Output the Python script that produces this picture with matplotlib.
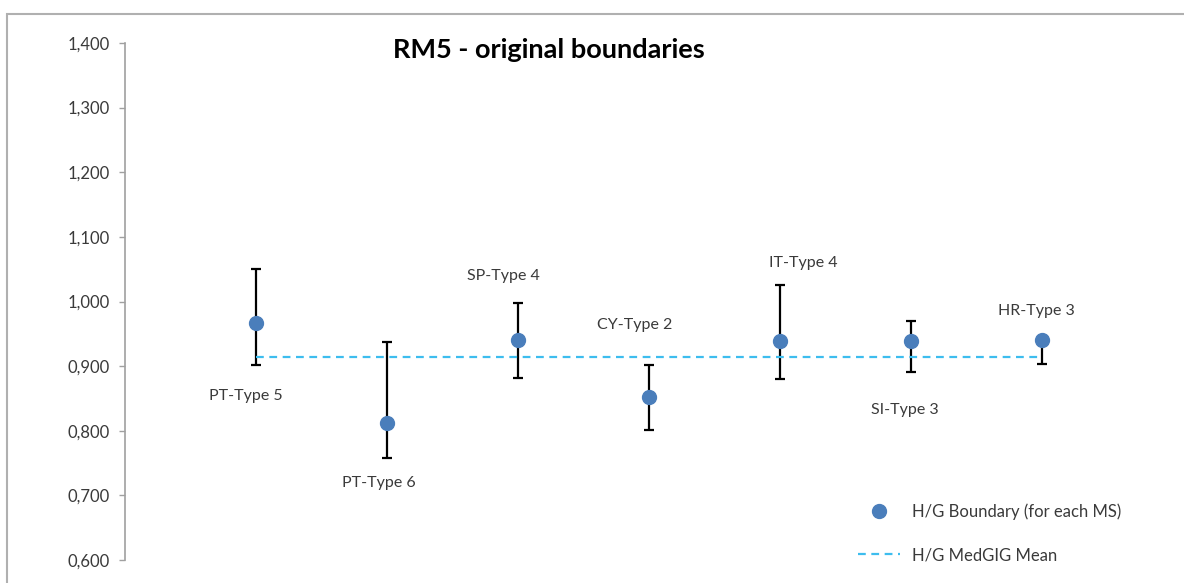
import matplotlib
matplotlib.use("Agg")
import matplotlib.pyplot as plt
from matplotlib.patches import Rectangle
from matplotlib.ticker import FuncFormatter
import numpy as np

plt.rcParams['font.family'] = ['Lato', 'DejaVu Sans']

# ---- data ----
labels = ["PT-Type 5", "PT-Type 6", "SP-Type 4", "CY-Type 2", "IT-Type 4", "SI-Type 3", "HR-Type 3"]
boundary = [0.967, 0.812, 0.940, 0.852, 0.939, 0.939, 0.940]
err_low = [0.902, 0.758, 0.881, 0.801, 0.880, 0.891, 0.903]
err_high = [1.050, 0.937, 0.998, 0.902, 1.025, 0.970, 0.940]
medgig_mean = 0.914
yticks = [0.6, 0.7, 0.8, 0.9, 1.0, 1.1, 1.2, 1.3, 1.4]

# label placement (layout, data coords)
label_pos = [(0.92, 0.854), (1.94, 0.719), (2.89, 1.039), (3.89, 0.963),
             (5.18, 1.059), (5.95, 0.832), (6.96, 0.985)]

W, H = 1184, 583
fig = plt.figure(figsize=(W / 100, H / 100), dpi=100)
fig.patches.append(Rectangle((7 / W, -0.1), 1.2, (H - 14) / H + 0.1, transform=fig.transFigure,
                             fill=False, edgecolor="#b0b0b0", linewidth=1.5))

ax = fig.add_axes([125 / W, (H - 560) / H, 1048 / W, (560 - 43) / H])
x = np.arange(1, len(labels) + 1)
b = np.array(boundary)
yerr = np.vstack([b - np.array(err_low), np.array(err_high) - b])

ax.errorbar(x, b, yerr=yerr, fmt='none', ecolor='black', elinewidth=1.6,
            capsize=3.5, capthick=1.6, zorder=2)
ax.plot([x[0], x[-1]], [medgig_mean, medgig_mean], linestyle=(0, (3.5, 2.5)),
        color="#3DBDEE", linewidth=1.6, zorder=3, label="H/G MedGIG Mean")
ax.plot(x, b, 'o', color="#4A7EBB", markersize=10, zorder=4,
        label="H/G Boundary (for each MS)")

for lab, (lx, ly) in zip(labels, label_pos):
    ax.text(lx, ly, lab, ha='center', va='center', fontsize=11.5, color="#3a3a3a")

ax.set_xlim(0, 8)
ax.set_ylim(0.6, 1.4)
ax.set_yticks(yticks)
ax.yaxis.set_major_formatter(FuncFormatter(lambda v, p: f"{v:.3f}".replace('.', ',')))
ax.tick_params(axis='y', direction='out', length=4, width=1, color="#a0a0a0",
               labelsize=12, labelcolor="#3a3a3a", pad=7)
ax.set_xticks([])
for s in ['top', 'right', 'bottom']:
    ax.spines[s].set_visible(False)
ax.spines['left'].set_color("#a0a0a0")
ax.spines['left'].set_linewidth(1.2)

fig.text(549 / W, (H - 50) / H, "RM5 - original boundaries", ha='center', va='center',
         fontsize=19.5, fontweight='bold', color='black')

h, l = ax.get_legend_handles_labels()
leg = ax.legend(h[::-1], l[::-1], loc='center left', bbox_to_anchor=(843 / W, (H - 533) / H),
                bbox_transform=fig.transFigure, frameon=False, fontsize=12,
                handlelength=2.5, handletextpad=0.72, labelspacing=1.65)
for t in leg.get_texts():
    t.set_color("#3a3a3a")

fig.savefig("out.png", dpi=100)
